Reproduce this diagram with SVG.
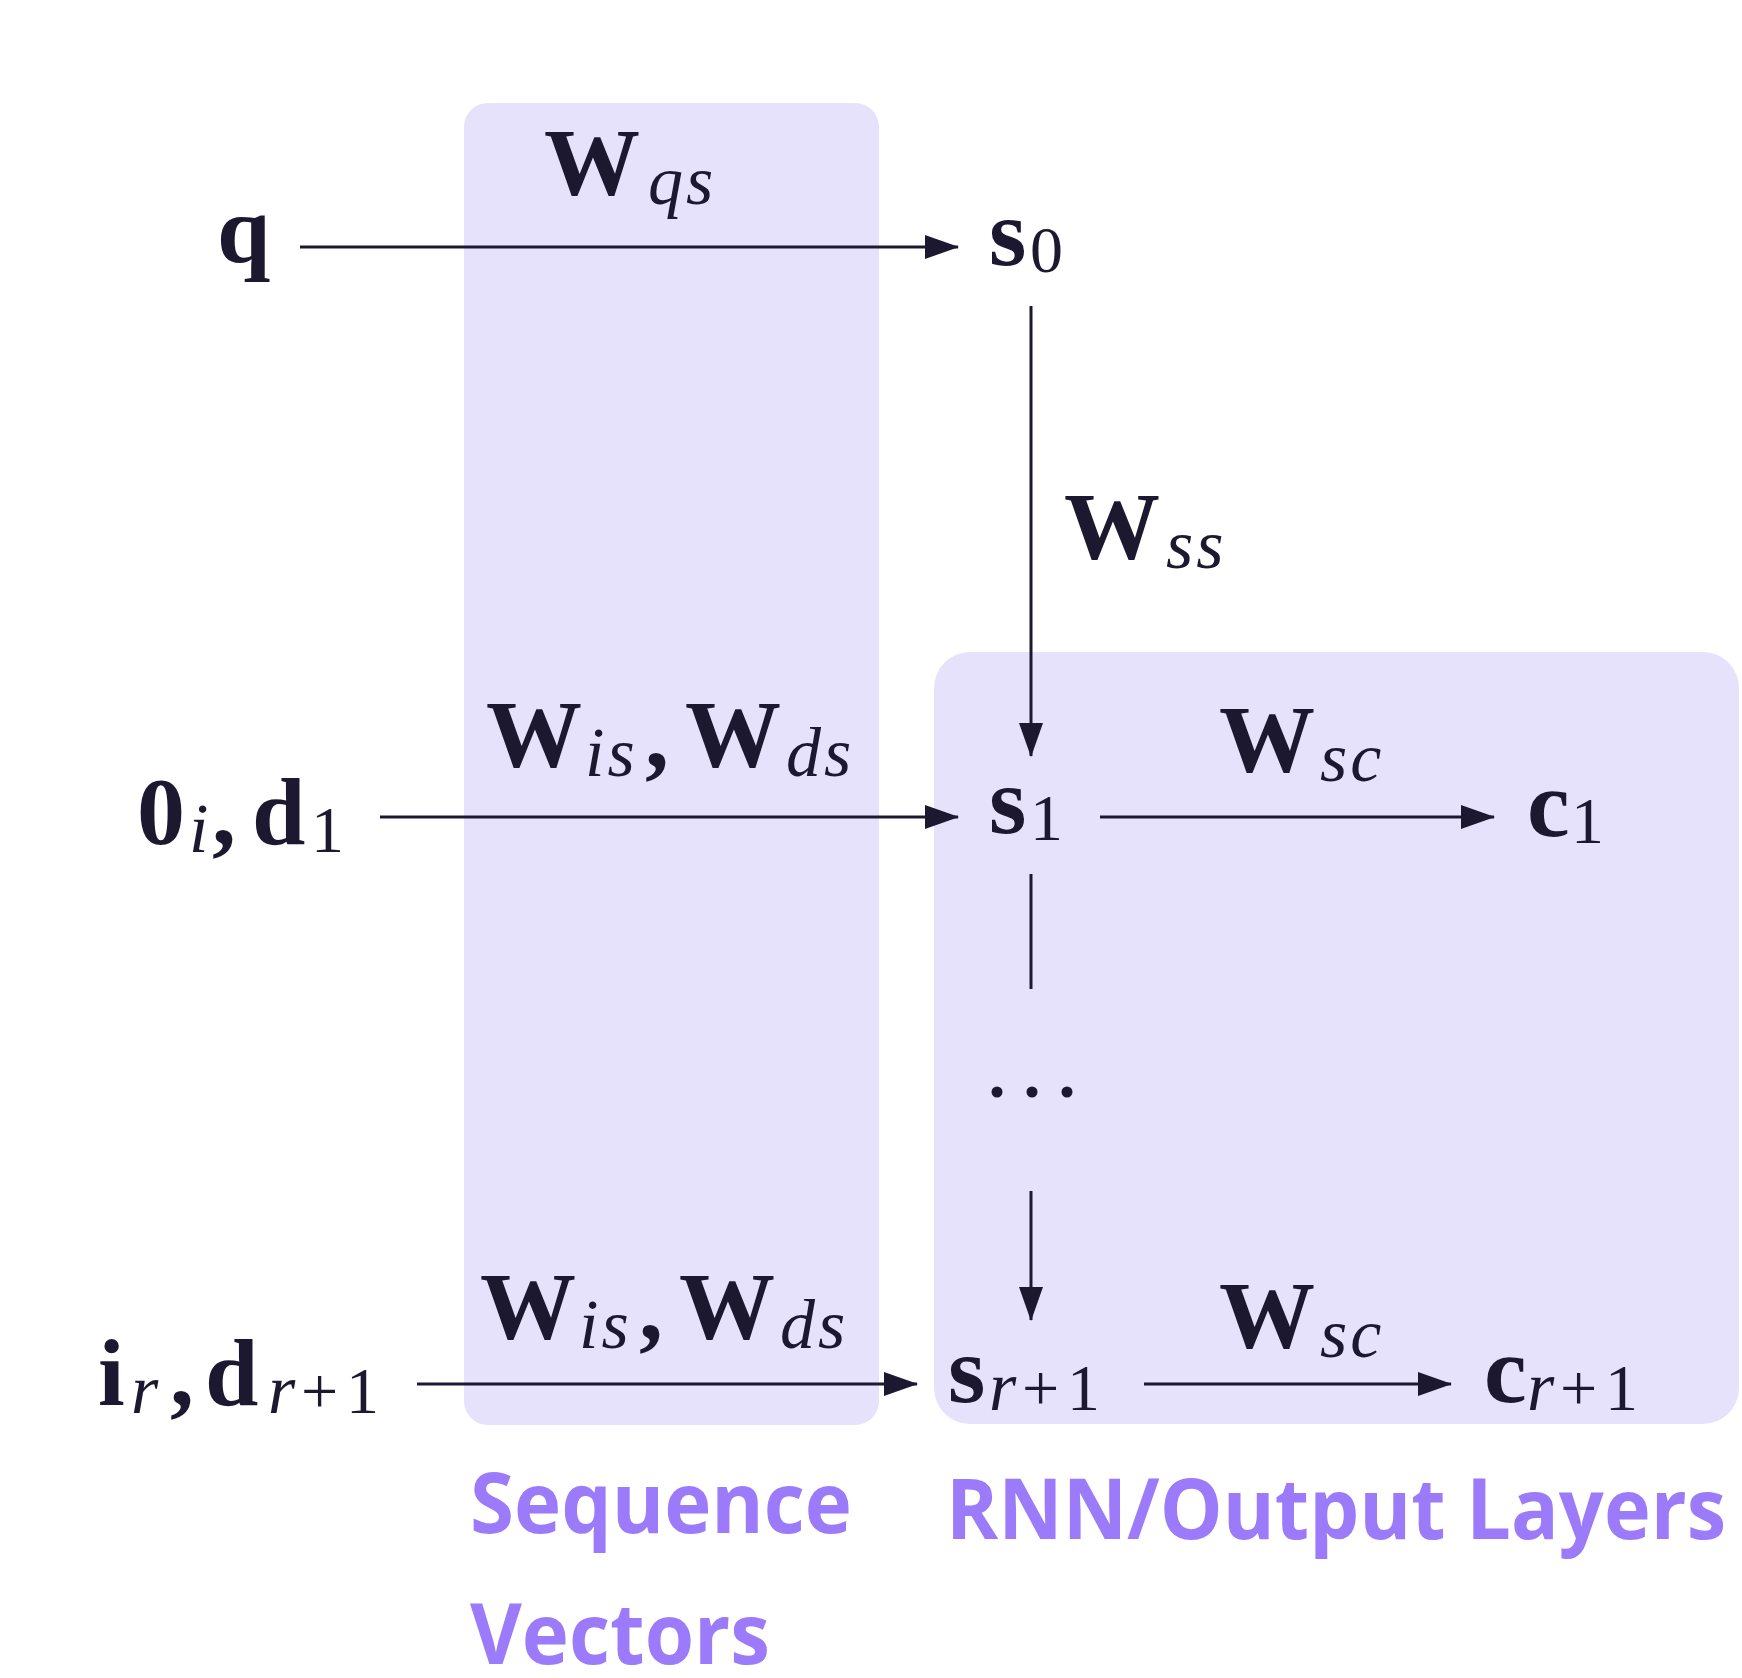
<svg xmlns="http://www.w3.org/2000/svg" width="1742" height="1678" viewBox="0 0 1742 1678">
<style>
.b{font-family:"Liberation Serif",serif;font-weight:bold;font-size:96px;fill:#1c1830}
.sub{font-family:"Liberation Serif",serif;font-style:italic;font-weight:normal;font-size:70px;letter-spacing:3px;fill:#1c1830}
.num{font-family:"Liberation Serif",serif;font-weight:normal;font-size:66px;fill:#1c1830}
.lbl{font-family:"Open Sans","Liberation Sans",sans-serif;font-weight:bold;font-size:84px;fill:#9b7bfa}
.panel{fill:#e6e2fc}
.c{stroke:#1c1830;stroke-width:3;fill:none}
</style>
<defs>
<marker id="ah" markerUnits="userSpaceOnUse" markerWidth="34" markerHeight="24" refX="33" refY="12" orient="auto">
<path d="M0,0 L34,12 L0,24 z" fill="#1c1830"/>
</marker>
</defs>
<rect width="1742" height="1678" fill="#ffffff"/>
<g id="panel-sequence"><rect class="panel" x="464" y="103" width="415" height="1322" rx="24"/></g>
<g id="panel-rnn"><rect class="panel" x="934" y="652" width="805" height="772" rx="36"/></g>

<g id="connectors">
<line class="c" x1="300" y1="247" x2="958" y2="247" marker-end="url(#ah)"/>
<line class="c" x1="1031" y1="306" x2="1031" y2="756" marker-end="url(#ah)"/>
<line class="c" x1="380" y1="817" x2="958" y2="817" marker-end="url(#ah)"/>
<line class="c" x1="1100" y1="817" x2="1494" y2="817" marker-end="url(#ah)"/>
<line class="c" x1="1031" y1="874" x2="1031" y2="989"/>
<line class="c" x1="1031" y1="1191" x2="1031" y2="1320" marker-end="url(#ah)"/>
<line class="c" x1="417" y1="1384" x2="917" y2="1384" marker-end="url(#ah)"/>
<line class="c" x1="1144" y1="1384" x2="1451" y2="1384" marker-end="url(#ah)"/>
</g>

<g id="node-q"><text class="b" x="217" y="262">q</text></g>
<g id="node-s0"><text class="b" x="989" y="265">s</text><text class="num" x="1030" y="272">0</text></g>
<g id="label-wqs"><text class="b" x="544" y="195">W</text><text class="sub" x="648" y="204">qs</text></g>
<g id="label-wss"><text class="b" x="1064" y="559">W</text><text class="sub" x="1166" y="568">ss</text></g>
<g id="node-input1"><text class="b" x="137" y="844">0</text><text class="sub" x="189" y="852">i</text><text class="b" x="212" y="844">,</text><text class="b" x="252" y="844">d</text><text class="num" x="311" y="852">1</text></g>
<g id="label-wisds1"><text class="b" x="486" y="767">W</text><text class="sub" x="585" y="776">is</text><text class="b" x="645" y="767">,</text><text class="b" x="685" y="767">W</text><text class="sub" x="786" y="776">ds</text></g>
<g id="node-s1"><text class="b" x="989" y="833">s</text><text class="num" x="1030" y="840">1</text></g>
<g id="label-wsc1"><text class="b" x="1219" y="772">W</text><text class="sub" x="1320" y="781">sc</text></g>
<g id="node-c1"><text class="b" x="1527" y="836">c</text><text class="num" x="1571" y="843">1</text></g>
<g id="node-dots"><circle cx="997" cy="1092" r="5.5" fill="#1c1830"/><circle cx="1032" cy="1092" r="5.5" fill="#1c1830"/><circle cx="1067" cy="1092" r="5.5" fill="#1c1830"/></g>
<g id="node-input-r"><text class="b" x="98" y="1405">i</text><text class="sub" x="131" y="1413">r</text><text class="b" x="170" y="1405">,</text><text class="b" x="205" y="1405">d</text><text class="sub" x="268" y="1413">r</text><text class="num" x="301" y="1413">+</text><text class="num" x="346" y="1413">1</text></g>
<g id="label-wisds2"><text class="b" x="480" y="1339">W</text><text class="sub" x="579" y="1348">is</text><text class="b" x="639" y="1339">,</text><text class="b" x="679" y="1339">W</text><text class="sub" x="780" y="1348">ds</text></g>
<g id="node-sr1"><text class="b" x="948" y="1402">s</text><text class="sub" x="989" y="1410">r</text><text class="num" x="1022" y="1410">+</text><text class="num" x="1067" y="1410">1</text></g>
<g id="label-wsc2"><text class="b" x="1219" y="1348">W</text><text class="sub" x="1320" y="1357">sc</text></g>
<g id="node-cr1"><text class="b" x="1484" y="1402">c</text><text class="sub" x="1527" y="1410">r</text><text class="num" x="1560" y="1410">+</text><text class="num" x="1605" y="1410">1</text></g>

<g id="legend">
<text class="lbl" x="470" y="1533" textLength="382" lengthAdjust="spacingAndGlyphs">Sequence</text>
<text class="lbl" x="470" y="1664" textLength="300" lengthAdjust="spacingAndGlyphs">Vectors</text>
<text class="lbl" x="946" y="1539" textLength="780" lengthAdjust="spacingAndGlyphs">RNN/Output Layers</text>
</g>
</svg>
